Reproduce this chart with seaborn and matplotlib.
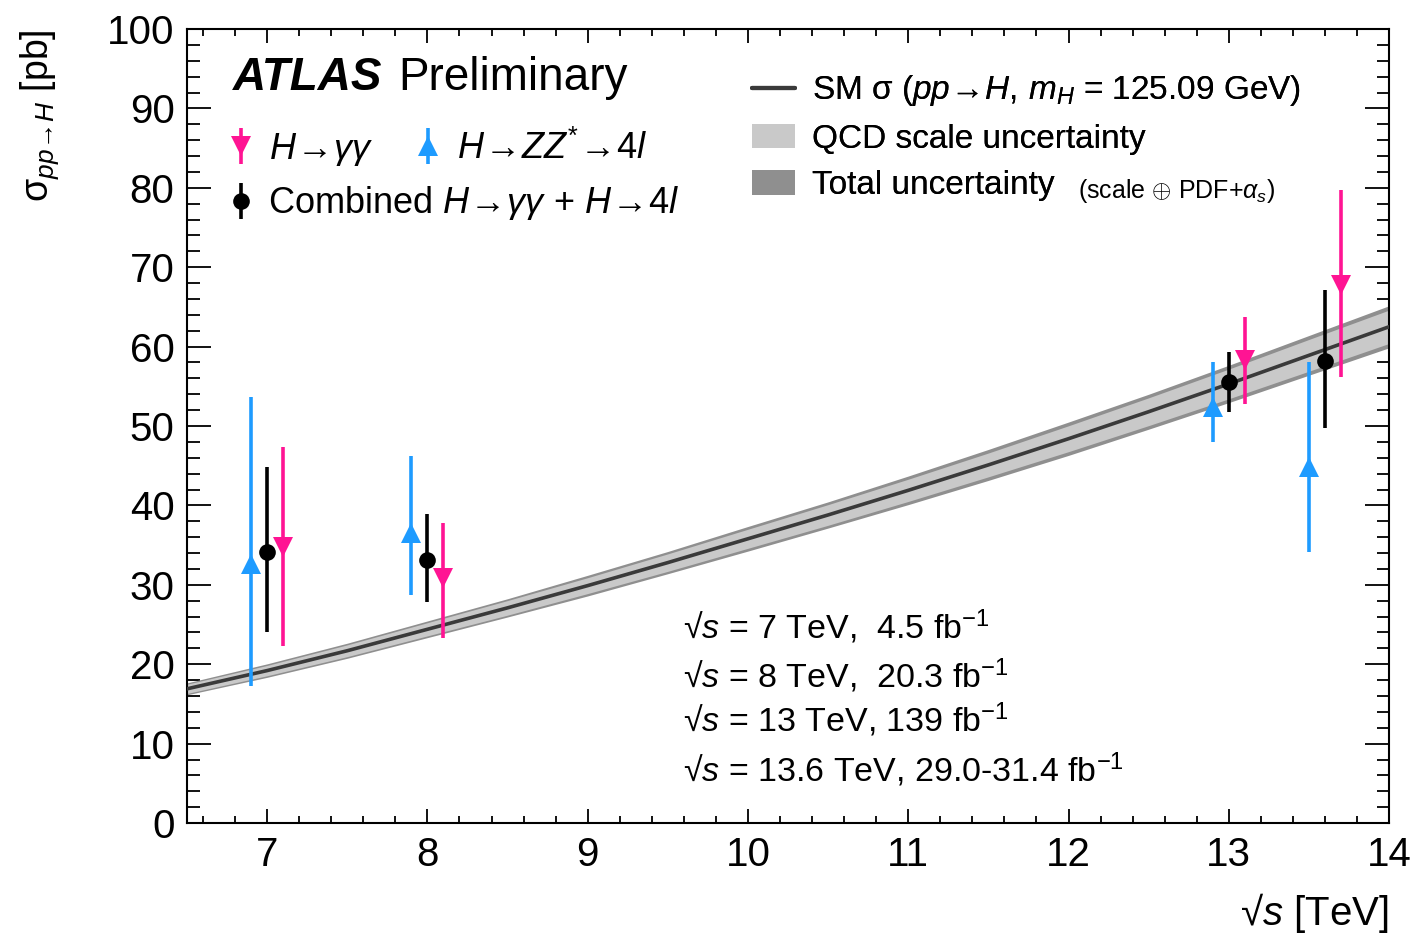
import numpy as np
import matplotlib
matplotlib.use("Agg")
import matplotlib.pyplot as plt
from matplotlib.ticker import MultipleLocator
from matplotlib.patches import Patch
from matplotlib.lines import Line2D
import seaborn as sns
import pandas as pd

# ---------------- data ----------------
energy = [6.5, 7.0, 7.5, 8.0, 8.5, 9.0, 9.5, 10.0, 10.5, 11.0, 11.5, 12.0, 12.5, 13.0, 13.5, 14.0]
sm_xsec = [16.9, 19.2, 21.7, 24.4, 27.1, 29.9, 32.8, 35.8, 38.8, 41.9, 45.1, 48.4, 51.8, 55.3, 58.9, 62.5]
tot_err = [0.75, 0.85, 0.95, 1.05, 1.15, 1.3, 1.4, 1.55, 1.65, 1.8, 1.95, 2.1, 2.2, 2.35, 2.5, 2.65]
qcd_err = [0.58, 0.65, 0.74, 0.83, 0.92, 1.0, 1.1, 1.2, 1.3, 1.4, 1.5, 1.63, 1.75, 1.87, 2.0, 2.1]

gg_x = [7.1, 8.1, 13.1, 13.7]
gg_y = [34.8, 30.8, 58.3, 67.8]
gg_lo = [22.3, 23.3, 52.8, 56.2]
gg_hi = [47.4, 37.8, 63.7, 79.7]

zz_x = [6.9, 7.9, 12.9, 13.5]
zz_y = [32.6, 36.5, 52.4, 44.8]
zz_lo = [17.2, 28.7, 48.0, 34.1]
zz_hi = [53.6, 46.2, 58.1, 58.1]

comb_x = [7.0, 8.0, 13.0, 13.6]
comb_y = [34.1, 33.1, 55.5, 58.2]
comb_lo = [24.0, 27.8, 51.8, 49.7]
comb_hi = [44.8, 38.9, 59.3, 67.1]

lumi_labels = [r"√$s$ = 7 TeV,  4.5 fb$^{-1}$",
               r"√$s$ = 8 TeV,  20.3 fb$^{-1}$",
               r"√$s$ = 13 TeV, 139 fb$^{-1}$",
               r"√$s$ = 13.6 TeV, 29.0-31.4 fb$^{-1}$"]

# ---------------- style ----------------
sns.set_theme(style="ticks")
plt.rcParams['font.family'] = ['Liberation Sans', 'DejaVu Sans']
plt.rcParams['mathtext.fontset'] = 'custom'
plt.rcParams['mathtext.rm'] = 'Liberation Sans'
plt.rcParams['mathtext.sf'] = 'Liberation Sans'
plt.rcParams['mathtext.it'] = 'Liberation Sans:italic'
plt.rcParams['mathtext.bf'] = 'Liberation Sans:bold'
plt.rcParams['text.color'] = 'black'
plt.rcParams['axes.labelcolor'] = 'black'

PINK = '#ff1493'
BLUE = '#1e9bff'

fig = plt.figure(figsize=(14.2, 9.42), dpi=100)
ax = fig.add_axes([0.1317, 0.1263, 0.8465, 0.8429])

e = np.array(energy)
s = np.array(sm_xsec)
te = np.array(tot_err)
qe = np.array(qcd_err)

ax.fill_between(e, s - te, s + te, color='#8f8f8f', lw=0, zorder=1)
ax.fill_between(e, s - qe, s + qe, color='#c9c9c9', lw=0, zorder=2)
df = pd.DataFrame({'energy': energy, 'xsec': sm_xsec})
sns.lineplot(data=df, x='energy', y='xsec', ax=ax, color='#3a3a3a', lw=2.6, zorder=3)

def draw(xs, ys, lo, hi, fmt, color, ms):
    ys = np.array(ys)
    return ax.errorbar(xs, ys, yerr=[ys - np.array(lo), np.array(hi) - ys], fmt=fmt,
                       color=color, ms=ms, elinewidth=2.6, capsize=0, zorder=5,
                       markeredgewidth=0)

h_zz = draw(zz_x, zz_y, zz_lo, zz_hi, '^', BLUE, 14)
h_comb = draw(comb_x, comb_y, comb_lo, comb_hi, 'o', 'black', 12)
h_gg = draw(gg_x, gg_y, gg_lo, gg_hi, 'v', PINK, 14)

ax.set_xlim(6.5, 14)
ax.set_ylim(0, 100)
ax.xaxis.set_major_locator(MultipleLocator(1))
ax.xaxis.set_minor_locator(MultipleLocator(0.2))
ax.yaxis.set_major_locator(MultipleLocator(10))
ax.yaxis.set_minor_locator(MultipleLocator(2))
ax.tick_params(which='both', direction='in', top=True, right=True, colors='black', width=1.3)
ax.tick_params(axis='x', which='major', length=10, pad=9, labelsize=29)
ax.tick_params(axis='x', which='minor', length=5)
ax.tick_params(axis='y', which='major', length=17, pad=9, labelsize=29)
ax.tick_params(axis='y', which='minor', length=9)
for sp in ax.spines.values():
    sp.set_linewidth(1.5)
    sp.set_color('black')
    sp.set_visible(True)

ax.set_xlabel(r"√$s$ [TeV]", fontsize=29, loc='right', color='black')
ax.xaxis.set_label_coords(1.0, -0.085)
ax.set_ylabel(r"σ$_{pp\!\rightarrow\!H}$ [pb]", fontsize=27, loc='top', color='black')
ax.yaxis.set_label_coords(-0.105, 1.0)

# ATLAS label
ax.text(0.038, 0.938, "ATLAS", transform=ax.transAxes, fontsize=33, fontweight='bold',
        fontstyle='italic', va='center', ha='left')
ax.text(0.1755, 0.938, "Preliminary", transform=ax.transAxes, fontsize=33,
        va='center', ha='left')

# left legends
leg1 = ax.legend([h_gg, h_zz], [r"$H\!\rightarrow\!\gamma\gamma$", r"$H\!\rightarrow\!ZZ^{*}\!\rightarrow\!4l$"],
                 loc='center left', bbox_to_anchor=(0.031, 0.8485), ncol=2, frameon=False,
                 fontsize=26, handlelength=0.9, handletextpad=0.35, columnspacing=1.05,
                 borderpad=0, borderaxespad=0)
ax.add_artist(leg1)
leg2 = ax.legend([h_comb], [r"Combined $H\!\rightarrow\!\gamma\gamma$ + $H\!\rightarrow\!4l$"],
                 loc='center left', bbox_to_anchor=(0.031, 0.7805), frameon=False,
                 fontsize=26, handlelength=0.9, handletextpad=0.3,
                 borderpad=0, borderaxespad=0)
ax.add_artist(leg2)

# right legend
rh = [Line2D([], [], color='#3a3a3a', lw=3),
      Patch(facecolor='#c9c9c9', edgecolor='none'),
      Patch(facecolor='#8f8f8f', edgecolor='none')]
rl = ["SM σ ($pp\\!\\rightarrow\\!H,\\, m_H$ = 125.09 GeV)",
      "QCD scale uncertainty",
      "Total uncertainty"]
leg3 = ax.legend(rh, rl, loc='upper left', bbox_to_anchor=(0.470, 0.944), frameon=False,
                 fontsize=24, handlelength=1.3, handleheight=0.75, handletextpad=0.5,
                 labelspacing=0.46, borderpad=0, borderaxespad=0)
ax.add_artist(leg3)
ax.text(0.741, 0.796, r"(scale $\oplus$ PDF+$\alpha_s$)", transform=ax.transAxes,
        fontsize=18, va='center', ha='left')

# lumi text
for lab, yy in zip(lumi_labels, [0.247, 0.186, 0.130, 0.067]):
    ax.text(0.4127, yy, lab, transform=ax.transAxes, fontsize=24.5, va='center', ha='left')

fig.savefig("out.png", dpi=100)
